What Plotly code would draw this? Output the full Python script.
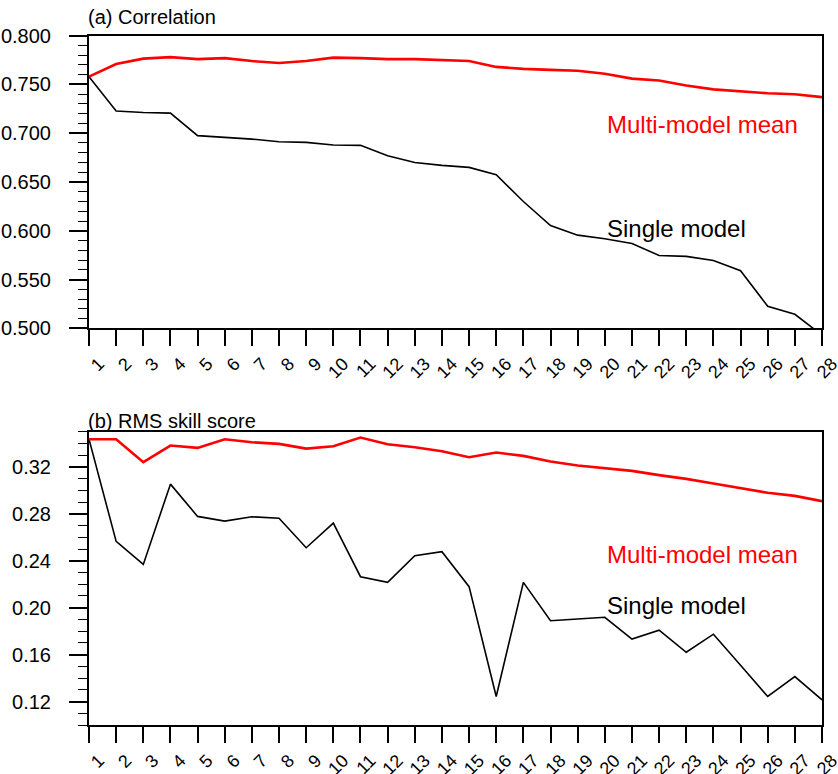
import plotly.graph_objects as go

members = list(range(1, 29))

corr_mmm = [0.758, 0.771, 0.7765, 0.778, 0.776, 0.777, 0.774, 0.772, 0.774, 0.7775,
            0.777, 0.776, 0.776, 0.775, 0.774, 0.768, 0.766, 0.765, 0.764, 0.761,
            0.756, 0.754, 0.749, 0.745, 0.743, 0.741, 0.740, 0.737]
corr_single = [0.758, 0.7227, 0.7213, 0.7206, 0.6975, 0.696, 0.694, 0.6913, 0.6906, 0.688,
               0.6876, 0.677, 0.670, 0.667, 0.665, 0.6575, 0.630, 0.6054, 0.5955, 0.5918,
               0.587, 0.5747, 0.5737, 0.5696, 0.559, 0.5226, 0.5144, 0.493]

rms_mmm = [0.3436, 0.3436, 0.324, 0.3382, 0.3362, 0.3436, 0.341, 0.3396, 0.3356, 0.3376,
           0.345, 0.3393, 0.3368, 0.3334, 0.3283, 0.3322, 0.3294, 0.3246, 0.3212, 0.3186,
           0.3166, 0.313, 0.3098, 0.3059, 0.3019, 0.2979, 0.2953, 0.2908]
rms_single = [0.3436, 0.2565, 0.2369, 0.3053, 0.2778, 0.2738, 0.2775, 0.2763, 0.2511, 0.2721,
              0.2264, 0.2216, 0.2443, 0.2477, 0.2179, 0.1243, 0.2216, 0.1889, 0.1904, 0.1918,
              0.1733, 0.1808, 0.162, 0.1774, 0.151, 0.1243, 0.1413, 0.1214]

corr_ticks = [0.500, 0.550, 0.600, 0.650, 0.700, 0.750, 0.800]
rms_ticks = [0.12, 0.16, 0.20, 0.24, 0.28, 0.32]

FONT = "Liberation Sans, Arial, Helvetica, sans-serif"
W, H = 838, 774


def px(x):
    return x / W


def py(y):
    return 1 - y / H


fig = go.Figure()
fig.add_trace(go.Scatter(x=members, y=corr_single, mode="lines",
                         line=dict(color="black", width=1.6), xaxis="x", yaxis="y"))
fig.add_trace(go.Scatter(x=members, y=corr_mmm, mode="lines",
                         line=dict(color="red", width=2.6), xaxis="x", yaxis="y"))
fig.add_trace(go.Scatter(x=members, y=rms_single, mode="lines",
                         line=dict(color="black", width=1.6), xaxis="x2", yaxis="y2"))
fig.add_trace(go.Scatter(x=members, y=rms_mmm, mode="lines",
                         line=dict(color="red", width=2.6), xaxis="x2", yaxis="y2"))

xdom = [px(89), px(822)]
ydom1 = [py(328.3), py(35.7)]
ydom2 = [py(725), py(431.7)]

xcommon = dict(range=[1, 28], tickmode="array", tickvals=members,
               ticktext=[str(m) for m in members], ticks="outside", ticklen=16,
               tickwidth=2, tickcolor="black", tickangle=-45, showline=True,
               linecolor="black", linewidth=2, mirror=True, showgrid=False,
               zeroline=False, automargin=False, domain=xdom,
               tickfont=dict(family=FONT, size=18, color="black"),
               ticklabelshift=10, ticklabeloverflow="allow")
ycommon = dict(ticks="outside", ticklen=18, tickwidth=2, tickcolor="black",
               showline=True, linecolor="black", linewidth=2, mirror=True,
               showgrid=False, zeroline=False, automargin=False,
               tickfont=dict(family=FONT, size=20, color="black"),
               ticklabelstandoff=14)

fig.update_layout(
    width=W, height=H, margin=dict(l=0, r=0, t=0, b=0),
    paper_bgcolor="white", plot_bgcolor="white", showlegend=False,
    xaxis=dict(anchor="y", **xcommon),
    yaxis=dict(anchor="x", domain=ydom1, range=[0.5, 0.8], tickmode="array",
               tickvals=corr_ticks, ticktext=[f"{v:.3f}" for v in corr_ticks],
               minor=dict(tick0=0.5, dtick=0.01, ticks="outside", ticklen=9,
                          tickwidth=1, tickcolor="black"),
               **ycommon),
    xaxis2=dict(anchor="y2", **xcommon),
    yaxis2=dict(anchor="x2", domain=ydom2, range=[0.10, 0.35], tickmode="array",
                tickvals=rms_ticks, ticktext=[f"{v:.2f}" for v in rms_ticks],
                minor=dict(tick0=0.12, dtick=0.01, ticks="outside", ticklen=9,
                           tickwidth=1, tickcolor="black"),
                **ycommon),
)

ann_font_big = dict(family=FONT, size=24)
fig.add_annotation(text="(a) Correlation", xref="paper", yref="paper",
                   x=px(86), y=py(17), xanchor="left", yanchor="middle",
                   showarrow=False, font=dict(family=FONT, size=20, color="black"))
fig.add_annotation(text="(b) RMS skill score", xref="paper", yref="paper",
                   x=px(86), y=py(421), xanchor="left", yanchor="middle",
                   showarrow=False, font=dict(family=FONT, size=20, color="black"))
fig.add_annotation(text="Multi-model mean", xref="x", yref="y", x=20, y=0.709,
                   xanchor="left", yanchor="middle", showarrow=False,
                   font=dict(color="red", **ann_font_big))
fig.add_annotation(text="Single model", xref="x", yref="y", x=20, y=0.602,
                   xanchor="left", yanchor="middle", showarrow=False,
                   font=dict(color="black", **ann_font_big))
fig.add_annotation(text="Multi-model mean", xref="x2", yref="y2", x=20, y=0.245,
                   xanchor="left", yanchor="middle", showarrow=False,
                   font=dict(color="red", **ann_font_big))
fig.add_annotation(text="Single model", xref="x2", yref="y2", x=20, y=0.202,
                   xanchor="left", yanchor="middle", showarrow=False,
                   font=dict(color="black", **ann_font_big))

fig.write_html("out.html", config={"displayModeBar": False},
               post_script="document.body.style.margin='0';"
                           "document.body.style.overflow='hidden';")
